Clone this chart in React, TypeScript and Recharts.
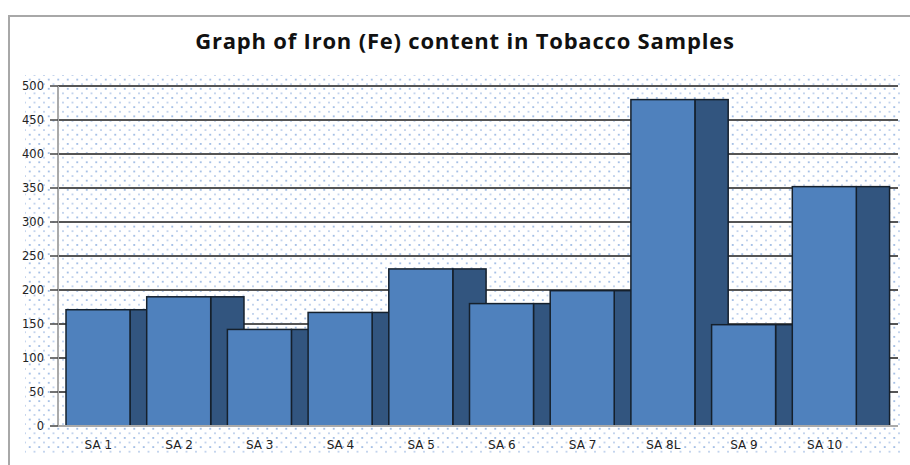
import React from 'react';
import { BarChart, Bar, XAxis, YAxis, CartesianGrid } from 'recharts';

const categories = ['SA 1', 'SA 2', 'SA 3', 'SA 4', 'SA 5', 'SA 6', 'SA 7', 'SA 8L', 'SA 9', 'SA 10'];
const ironValues = [171, 190, 142, 167, 231, 180, 199, 480, 149, 352];
const yTicks = [0, 50, 100, 150, 200, 250, 300, 350, 400, 450, 500];
const boundaryTicks = [0, 1, 2, 3, 4, 5, 6, 7, 8, 9, 10];

const data = categories.map((c, i) => ({ name: c, fe: ironValues[i] }));

const FRONT = '#4f81bd';
const SIDE = '#32557f';
const EDGE = '#15202c';

const FrontShape = (props: any) => {
  const { x, y, width, height } = props;
  if (!height || height <= 0) return null;
  return <rect x={x} y={y} width={width} height={height} fill={FRONT} stroke={EDGE} strokeWidth={1.5} />;
};

const SideShape = (props: any) => {
  const { x, y, width, height } = props;
  if (!height || height <= 0) return null;
  return <rect x={x + width} y={y} width={width * 0.52} height={height} fill={SIDE} stroke={EDGE} strokeWidth={1.5} />;
};

export default function App() {
  return (
    <div style={{ position: 'absolute', left: 0, top: 0, width: 910, height: 465, background: '#fff', overflow: 'hidden' }}>
      <div
        style={{
          position: 'absolute',
          left: 8,
          top: 15,
          width: 920,
          height: 470,
          borderLeft: '2px solid #a8a8a8',
          borderTop: '2px solid #a8a8a8',
        }}
      />
      <div
        style={{
          position: 'absolute',
          left: 25,
          top: 75,
          width: 875,
          height: 378,
          backgroundImage:
            'radial-gradient(circle, #8fb0df 0.6px, transparent 0.9px), radial-gradient(circle, #b3c8e8 0.6px, transparent 0.9px)',
          backgroundSize: '9.5px 9.2px, 9.5px 9.2px',
          backgroundPosition: '0px 0px, 4.75px 4.6px',
        }}
      />
      <div
        style={{
          position: 'absolute',
          left: 10,
          top: 28,
          width: 910,
          textAlign: 'center',
          fontFamily: '"Open Sans", Lato, sans-serif',
          fontWeight: 700,
          fontSize: 22,
          letterSpacing: 0.8,
          lineHeight: '24px',
          color: '#111',
        }}
      >
        Graph of Iron (Fe) content in Tobacco Samples
      </div>
      <div style={{ position: 'absolute', left: 0, top: 0 }}>
        <BarChart
          width={910}
          height={465}
          data={data}
          margin={{ top: 86, right: 12, bottom: 9, left: 8 }}
          barCategoryGap={0}
        >
          <CartesianGrid vertical={false} stroke="#555" strokeWidth={2} />
          <XAxis
            xAxisId="t"
            type="number"
            dataKey={() => 0}
            domain={[0, 10]}
            ticks={boundaryTicks}
            tick={false}
            axisLine={false}
            tickLine={{ stroke: '#a0a0a0', strokeWidth: 1.5 }}
            tickSize={5}
            height={0}
            padding={{ left: 0, right: 33 }}
            allowDataOverflow
          />
          <XAxis
            xAxisId="a"
            dataKey="name"
            tickLine={false}
            tickSize={0}
            tickMargin={14}
            axisLine={{ stroke: '#aaa', strokeWidth: 2 }}
            tick={{ fontFamily: '"DejaVu Sans", Verdana, sans-serif', fontSize: 12, fill: '#222' }}
            height={30}
            padding={{ left: 0, right: 33 }}
            interval={0}
          />
          <XAxis xAxisId="b" dataKey="name" hide padding={{ left: 0, right: 33 }} />
          <YAxis
            domain={[0, 500]}
            ticks={yTicks}
            width={50}
            interval={0}
            axisLine={{ stroke: '#aaa', strokeWidth: 2 }}
            tickLine={{ stroke: '#444', strokeWidth: 1.5 }}
            tickSize={8}
            tickMargin={6}
            tick={{ fontFamily: '"DejaVu Sans", Verdana, sans-serif', fontSize: 11.5, fill: '#222' }}
          />
          <Bar xAxisId="b" dataKey="fe" barSize={64} shape={SideShape} isAnimationActive={false} />
          <Bar xAxisId="a" dataKey="fe" barSize={64} shape={FrontShape} isAnimationActive={false} />
        </BarChart>
      </div>
    </div>
  );
}
